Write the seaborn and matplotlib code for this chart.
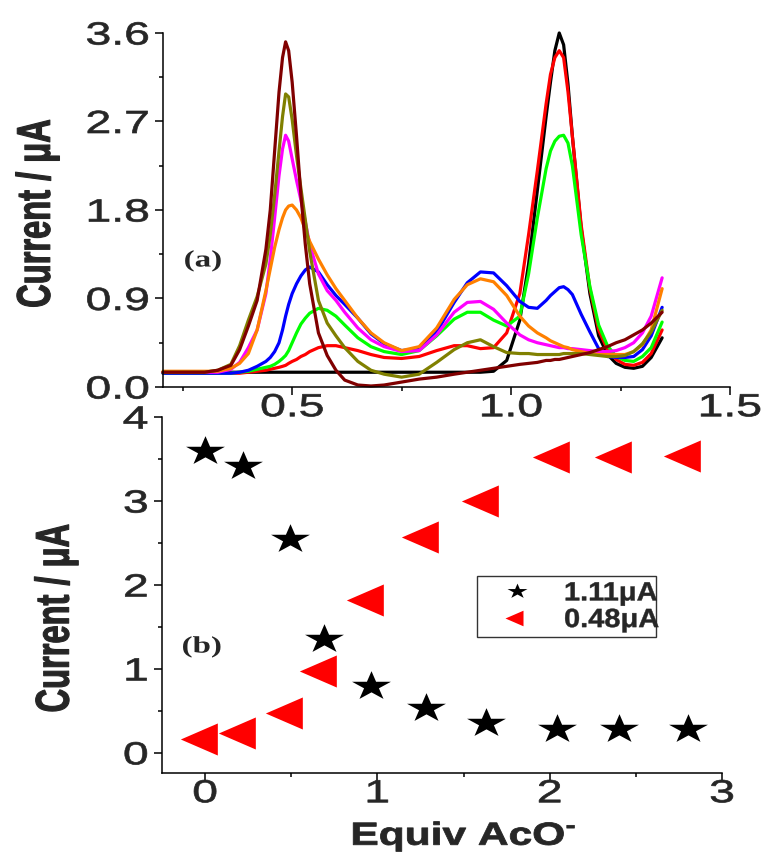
import numpy as np
import pandas as pd
import matplotlib
matplotlib.use('Agg')
import matplotlib.pyplot as plt
import seaborn as sns
from matplotlib.markers import MarkerStyle
from matplotlib.path import Path
from matplotlib.patheffects import AbstractPathEffect
from matplotlib.transforms import Affine2D
from matplotlib.ticker import AutoMinorLocator
from matplotlib.lines import Line2D

# ---- panel (a): voltammograms, current (uA) vs potential (V)
potential = [0.205, 0.25, 0.30, 0.33, 0.36, 0.38, 0.40, 0.42, 0.44, 0.45,
             0.46, 0.47, 0.478, 0.485, 0.492, 0.50, 0.51, 0.52, 0.53, 0.54,
             0.56, 0.58, 0.60, 0.62, 0.65, 0.68, 0.71, 0.75, 0.79, 0.83,
             0.87, 0.90, 0.93, 0.96, 0.99, 1.02, 1.04, 1.06, 1.08, 1.09,
             1.10, 1.11, 1.12, 1.13, 1.14, 1.16, 1.18, 1.20, 1.22, 1.24,
             1.26, 1.28, 1.30, 1.32, 1.345]

scan_black = [0.15, 0.15, 0.15, 0.15, 0.15, 0.15, 0.15, 0.15, 0.15, 0.15,
              0.15, 0.15, 0.15, 0.15, 0.15, 0.15, 0.15, 0.15, 0.15, 0.15,
              0.15, 0.15, 0.15, 0.15, 0.15, 0.15, 0.15, 0.15, 0.15, 0.15,
              0.15, 0.15, 0.15, 0.16, 0.27, 0.68, 1.25, 2.00, 2.75, 3.10,
              3.42, 3.60, 3.48, 3.08, 2.55, 1.62, 0.95, 0.52, 0.33, 0.24,
              0.20, 0.19, 0.21, 0.30, 0.50]
scan_red = [0.14, 0.14, 0.14, 0.14, 0.14, 0.14, 0.15, 0.16, 0.17, 0.18,
            0.19, 0.20, 0.21, 0.22, 0.24, 0.26, 0.28, 0.31, 0.33, 0.36,
            0.40, 0.42, 0.42, 0.40, 0.37, 0.33, 0.30, 0.29, 0.31, 0.37,
            0.42, 0.42, 0.39, 0.40, 0.55, 0.95, 1.55, 2.20, 2.88, 3.18,
            3.35, 3.42, 3.35, 3.00, 2.55, 1.65, 1.00, 0.58, 0.38, 0.28,
            0.23, 0.22, 0.25, 0.34, 0.58]
scan_green = [0.14, 0.14, 0.14, 0.14, 0.14, 0.15, 0.16, 0.18, 0.20, 0.21,
              0.23, 0.26, 0.29, 0.32, 0.37, 0.45, 0.55, 0.64, 0.70, 0.75,
              0.80, 0.78, 0.72, 0.63, 0.50, 0.41, 0.36, 0.33, 0.37, 0.52,
              0.69, 0.76, 0.76, 0.68, 0.62, 0.72, 1.15, 1.72, 2.22, 2.40,
              2.50, 2.55, 2.56, 2.48, 2.25, 1.55, 1.02, 0.63, 0.42, 0.31,
              0.27, 0.26, 0.31, 0.40, 0.66]
scan_blue = [0.14, 0.14, 0.14, 0.14, 0.14, 0.15, 0.17, 0.21, 0.26, 0.30,
             0.36, 0.45, 0.58, 0.72, 0.84, 0.95, 1.05, 1.13, 1.19, 1.22,
             1.17, 1.04, 0.93, 0.84, 0.70, 0.54, 0.44, 0.37, 0.39, 0.56,
             0.86, 1.06, 1.17, 1.16, 1.03, 0.87, 0.81, 0.80, 0.88, 0.93,
             0.97, 1.01, 1.02, 0.99, 0.94, 0.74, 0.56, 0.39, 0.31, 0.30,
             0.30, 0.31, 0.38, 0.52, 0.81]
scan_magenta = [0.15, 0.15, 0.15, 0.15, 0.18, 0.25, 0.40, 0.58, 0.95, 1.30,
                1.72, 2.15, 2.42, 2.56, 2.50, 2.32, 2.10, 1.90, 1.68, 1.45,
                1.15, 0.98, 0.88, 0.76, 0.60, 0.48, 0.41, 0.36, 0.37, 0.53,
                0.76, 0.86, 0.87, 0.79, 0.65, 0.53, 0.48, 0.45, 0.43, 0.42,
                0.41, 0.40, 0.40, 0.39, 0.39, 0.38, 0.37, 0.36, 0.36, 0.37,
                0.40, 0.45, 0.55, 0.72, 1.11]
scan_orange = [0.16, 0.16, 0.16, 0.16, 0.19, 0.24, 0.34, 0.58, 0.98, 1.20,
               1.42, 1.60, 1.72, 1.80, 1.84, 1.85, 1.80, 1.72, 1.60, 1.48,
               1.30, 1.14, 1.00, 0.88, 0.70, 0.55, 0.45, 0.37, 0.41, 0.60,
               0.89, 1.04, 1.10, 1.07, 0.93, 0.72, 0.62, 0.55, 0.50, 0.47,
               0.45, 0.43, 0.41, 0.40, 0.38, 0.36, 0.34, 0.33, 0.33, 0.33,
               0.33, 0.36, 0.43, 0.58, 1.00]
scan_olive = [0.15, 0.15, 0.15, 0.17, 0.23, 0.42, 0.68, 0.92, 1.25, 1.55,
              1.95, 2.40, 2.75, 2.98, 2.95, 2.72, 2.35, 2.02, 1.70, 1.38,
              0.88, 0.65, 0.52, 0.40, 0.26, 0.17, 0.13, 0.10, 0.13, 0.25,
              0.38, 0.45, 0.48, 0.41, 0.35, 0.34, 0.34, 0.33, 0.33, 0.33,
              0.33, 0.33, 0.34, 0.34, 0.34, 0.34, 0.33, 0.32, 0.31, 0.31,
              0.32, 0.36, 0.44, 0.56, 0.78]
scan_maroon = [0.15, 0.15, 0.15, 0.17, 0.22, 0.38, 0.62, 0.88, 1.40, 1.80,
               2.40, 3.00, 3.35, 3.51, 3.42, 3.10, 2.55, 1.95, 1.45, 1.05,
               0.55, 0.32, 0.17, 0.07, 0.02, 0.01, 0.02, 0.05, 0.08, 0.10,
               0.13, 0.15, 0.17, 0.19, 0.21, 0.23, 0.24, 0.25, 0.27, 0.27,
               0.28, 0.28, 0.29, 0.30, 0.31, 0.33, 0.35, 0.38, 0.41, 0.45,
               0.48, 0.53, 0.58, 0.65, 0.76]

scan_names = ['black', 'red', 'green', 'blue', 'magenta', 'orange', 'olive', 'maroon']
scan_colors = ['#000000', '#ff0000', '#00ff00', '#0000ff', '#ff00ff', '#ff8000', '#808000', '#800000']

# ---- panel (b): peak currents vs equivalents of acetate
equiv = [0, 0.22, 0.49, 0.69, 0.96, 1.28, 1.63, 2.04, 2.40, 2.80]
peak_111 = [3.60, 3.42, 2.55, 1.36, 0.80, 0.54, 0.36, 0.29, 0.29, 0.28]
peak_048 = [0.17, 0.24, 0.48, 0.97, 1.82, 2.57, 3.00, 3.52, 3.52, 3.54]
legend_labels = ['1.11μA', '0.48μA']


class Stretch(AbstractPathEffect):
    """widen text glyphs horizontally (the original picture is squeezed vertically)"""
    def __init__(self, sx, anchor='center', stroke=0):
        super().__init__()
        self.sx = sx
        self.anchor = anchor
        self.stroke = stroke

    def draw_path(self, renderer, gc, tpath, affine, rgbFace=None):
        box = tpath.get_extents(affine)
        if self.anchor == 'right':
            cx = box.x1
        elif self.anchor == 'left':
            cx = box.x0
        else:
            cx = 0.5 * (box.x0 + box.x1)
        t = affine + Affine2D().translate(-cx, 0).scale(self.sx, 1).translate(cx, 0)
        gc0 = renderer.new_gc()
        gc0.copy_properties(gc)
        if self.stroke:
            gc0.set_linewidth(self.stroke)
            gc0.set_joinstyle('round')
        renderer.draw_path(gc0, tpath, t, rgbFace)
        gc0.restore()


sns.set_style('ticks')
plt.rcParams['font.family'] = ['Liberation Sans', 'DejaVu Sans']
plt.rcParams['mathtext.fontset'] = 'custom'
plt.rcParams['mathtext.rm'] = 'Liberation Sans:bold'
plt.rcParams['mathtext.bf'] = 'Liberation Sans:bold'

# squashed star and a left triangle centred on its centroid
star = Path.unit_regular_star(5, 0.381966)
star_marker = MarkerStyle(Path(star.vertices * [1, 0.75], star.codes))
tri_marker = MarkerStyle(Path([(-1, 0), (0.5, 0.65), (0.5, -0.65), (-1, 0)], closed=True))

fig = plt.figure(figsize=(7.66, 8.59), dpi=100)
ax1 = fig.add_axes([0.2128, 0.5495, 0.7402, 0.4121])
ax2 = fig.add_axes([0.2115, 0.1001, 0.7311, 0.4144])

# panel (a)
all_scans = [scan_black, scan_red, scan_green, scan_blue, scan_magenta, scan_orange, scan_olive, scan_maroon]
frames = []
for name, vals in zip(scan_names, all_scans):
    frames.append(pd.DataFrame({'potential': potential, 'current': vals, 'scan': name}))
df_a = pd.concat(frames, ignore_index=True)
sns.lineplot(data=df_a, x='potential', y='current', hue='scan', hue_order=scan_names,
             palette=dict(zip(scan_names, scan_colors)), sort=False, estimator=None,
             legend=False, linewidth=2.3, ax=ax1)
for ln in ax1.lines:
    ln.set_clip_on(False)
    ln.set_solid_joinstyle('round')

ax1.set_xlim(0.205, 1.5)
ax1.set_ylim(0, 3.6)
ax1.set_xticks([0.5, 1.0, 1.5])
ax1.set_yticks([0.0, 0.9, 1.8, 2.7, 3.6])
ax1.set_xlabel('')
ax1.set_ylabel('Current / μA', fontsize=23.5, fontweight='bold')
ax1.yaxis.set_label_coords(-0.194, 0.49)
ax1.text(0.0705, 0.356, '(a)', transform=ax1.transAxes, ha='center', va='center',
         fontsize=17, fontweight='bold', family='Liberation Serif', path_effects=[Stretch(1.4)])

# panel (b)
sns.scatterplot(x=equiv, y=peak_111, marker=star_marker, s=28 ** 2, color='black',
                linewidth=0, ax=ax2, clip_on=False)
sns.scatterplot(x=equiv, y=peak_048, marker=tri_marker, s=35.5 ** 2, color='#ff0000',
                linewidth=0, ax=ax2, clip_on=False)
ax2.set_xlim(-0.25, 3.0)
ax2.set_ylim(-0.24, 4.0)
ax2.set_xticks([0, 1, 2, 3])
ax2.set_yticks([0, 1, 2, 3, 4])
ax2.set_ylabel('Current / μA', fontsize=23.5, fontweight='bold')
ax2.yaxis.set_label_coords(-0.161, 0.435)
ax2.set_xlabel(r'Equiv AcO$^{\text{-}}$', fontsize=23, fontweight='bold')
ax2.xaxis.set_label_coords(0.539, -0.202)
ax2.xaxis.label.set_va('baseline')
ax2.text(0.071, 0.354, '(b)', transform=ax2.transAxes, ha='center', va='center',
         fontsize=17, fontweight='bold', family='Liberation Serif', path_effects=[Stretch(1.4)])

handles = [Line2D([], [], ls='none', marker=star_marker, ms=14.4, color='black', mew=0),
           Line2D([], [], ls='none', marker=tri_marker, ms=17.3, color='#ff0000', mew=0)]
leg = ax2.legend(handles, legend_labels, loc='upper left', bbox_to_anchor=(0.5625, 0.553),
                 borderaxespad=0, frameon=True, fancybox=False, edgecolor='#333333',
                 framealpha=1, numpoints=1, handlelength=2.6, handletextpad=0.5,
                 borderpad=0.2, labelspacing=0.1, prop={'weight': 'bold', 'size': 19})
leg.get_frame().set_linewidth(1.0)
for t in leg.get_texts():
    t.set_path_effects([Stretch(1.1, anchor='left', stroke=0.3)])

for ax in (ax1, ax2):
    sns.despine(ax=ax)
    for side in ('left', 'bottom'):
        ax.spines[side].set_linewidth(1.1)
        ax.spines[side].set_color('black')
    ax.xaxis.set_minor_locator(AutoMinorLocator(2))
    ax.yaxis.set_minor_locator(AutoMinorLocator(2))
    ax.tick_params(which='major', direction='out', length=5.5, width=1.1, color='black',
                   labelsize=23)
    ax.tick_params(which='minor', direction='out', length=3, width=1.1, color='black')
    ax.tick_params(axis='x', which='major', pad=-1)
    ax.tick_params(axis='y', which='major', pad=4.5)
    ax.yaxis.label.set_path_effects([Stretch(1.45, stroke=0.8)])
    for lab in ax.get_xticklabels():
        lab.set_path_effects([Stretch(1.45, stroke=0.5)])
    for lab in ax.get_yticklabels():
        lab.set_path_effects([Stretch(1.45, anchor='right', stroke=0.5)])
ax2.xaxis.label.set_path_effects([Stretch(1.33, stroke=0.6)])

fig.savefig('out.png', dpi=100)
